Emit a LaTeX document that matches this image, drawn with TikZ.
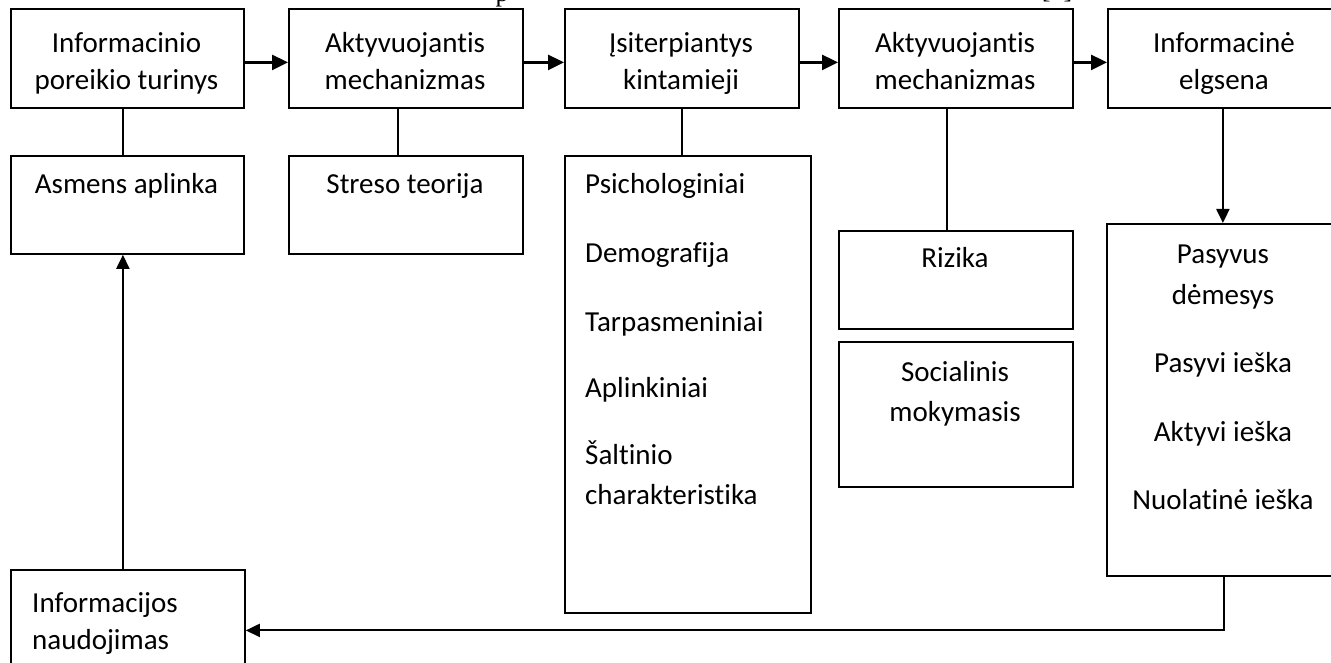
\documentclass[tikz,border=0pt]{standalone}
\usepackage{fontspec}
\setmainfont{Carlito}[Ligatures=NoCommon]
\newfontfamily\serifcap{Liberation Serif}
\usetikzlibrary{arrows.meta}

\begin{document}
\begin{tikzpicture}[x=1pt,y=-1pt,
  box/.style={draw, line width=1.8pt, inner sep=0pt, anchor=north west},
  txt/.style={font=\fontsize{29}{37}\selectfont, inner sep=0pt, anchor=base},
  txtl/.style={txt, anchor=base west},
  link/.style={line width=1.6pt},
  flow/.style={line width=2.6pt, -{Triangle[length=16pt,width=15pt]}},
  back/.style={line width=2pt, -{Triangle[length=14pt,width=13pt]}}]

\useasboundingbox (0,0) rectangle (1331,663);
\clip (0,0) rectangle (1331,663);

% clipped caption line above the chart
\node[font=\serifcap\fontsize{26}{30}\selectfont, inner sep=0pt, anchor=base] (capa) at (502,2) {p};
\node[font=\serifcap\fontsize{26}{30}\selectfont, inner sep=0pt, anchor=base] (capb) at (1057,-1) {[1]};

% top row
\node[box, minimum width=233pt, minimum height=99pt] (b1) at (10,8) {};
\node[box, minimum width=234pt, minimum height=99pt] (b2) at (288,8) {};
\node[box, minimum width=234pt, minimum height=99pt] (b3) at (564,8) {};
\node[box, minimum width=234pt, minimum height=99pt] (b4) at (838,8) {};
\node[box, minimum width=234pt, minimum height=99pt] (b5) at (1107,8) {};

\node[txt] (t1a) at (126.5,53) {Informacinio};
\node[txt] (t1b) at (126.5,90) {poreikio turinys};
\node[txt] (t2a) at (405,53) {Aktyvuojantis};
\node[txt] (t2b) at (405,90) {mechanizmas};
\node[txt] (t3a) at (681,53) {Įsiterpiantys};
\node[txt] (t3b) at (681,90) {kintamieji};
\node[txt] (t4a) at (955,53) {Aktyvuojantis};
\node[txt] (t4b) at (955,90) {mechanizmas};
\node[txt] (t5a) at (1224,53) {Informacinė};
\node[txt] (t5b) at (1224,90) {elgsena};

% second level
\node[box, minimum width=233pt, minimum height=98pt] (a1) at (10,155) {};
\node[box, minimum width=234pt, minimum height=98pt] (a2) at (288,155) {};
\node[box, minimum width=246pt, minimum height=457pt] (a3) at (564,155) {};
\node[box, minimum width=234pt, minimum height=98pt] (a4) at (838,230) {};
\node[box, minimum width=234pt, minimum height=145pt] (a5) at (838,341) {};
\node[box, minimum width=235pt, minimum height=352pt] (a6) at (1106,223) {};
\node[box, minimum width=234pt, minimum height=121pt] (c1) at (10,569) {};

\node[txt] (s1) at (126.5,194) {Asmens aplinka};
\node[txt] (s2) at (405,194) {Streso teorija};

\node[txtl] (p1) at (585,194) {Psichologiniai};
\node[txtl] (p2) at (585,262) {Demografija};
\node[txtl] (p3) at (585,331) {Tarpasmeniniai};
\node[txtl] (p4) at (585,397) {Aplinkiniai};
\node[txtl] (p5) at (585,464) {Šaltinio};
\node[txtl] (p6) at (585,504) {charakteristika};

\node[txt] (r1) at (955,268) {Rizika};
\node[txt] (r2) at (955,381) {Socialinis};
\node[txt] (r3) at (955,421) {mokymasis};

\node[txt] (e1) at (1223,264) {Pasyvus};
\node[txt] (e2) at (1223,304) {dėmesys};
\node[txt] (e3) at (1223,372) {Pasyvi ieška};
\node[txt] (e4) at (1223,441) {Aktyvi ieška};
\node[txt] (e5) at (1223,509) {Nuolatinė ieška};

\node[txtl] (u1) at (32,612) {Informacijos};
\node[txtl] (u2) at (32,649) {naudojimas};

% main flow
\draw[flow] ([yshift=-4pt]b1.east) -- ([yshift=-4pt]b2.west);
\draw[flow] ([yshift=-4pt]b2.east) -- ([yshift=-4pt]b3.west);
\draw[flow] ([yshift=-4pt]b3.east) -- ([yshift=-4pt]b4.west);
\draw[flow] ([yshift=-4pt]b4.east) -- ([yshift=-4pt]b5.west);

% links to the detail boxes
\draw[link] ([xshift=-4.5pt]b1.south) -- ([xshift=-4.5pt]a1.north);
\draw[link] ([xshift=-8pt]b2.south) -- ([xshift=-8pt]a2.north);
\draw[link] (b3.south) -- (b3.south |- a3.north);
\draw[link] ([xshift=-9pt]b4.south) -- ([xshift=-9pt]b4.south |- a4.north);
\draw[back] ([xshift=-2pt]b5.south) -- ([xshift=-2pt]b5.south |- a6.north);

% feedback loop
\draw[back] ([xshift=-0.5pt]a6.south) |- (c1.east);
\draw[back] ([xshift=-5pt]c1.north) -- ([xshift=-4.5pt]a1.south);
\end{tikzpicture}
\end{document}
